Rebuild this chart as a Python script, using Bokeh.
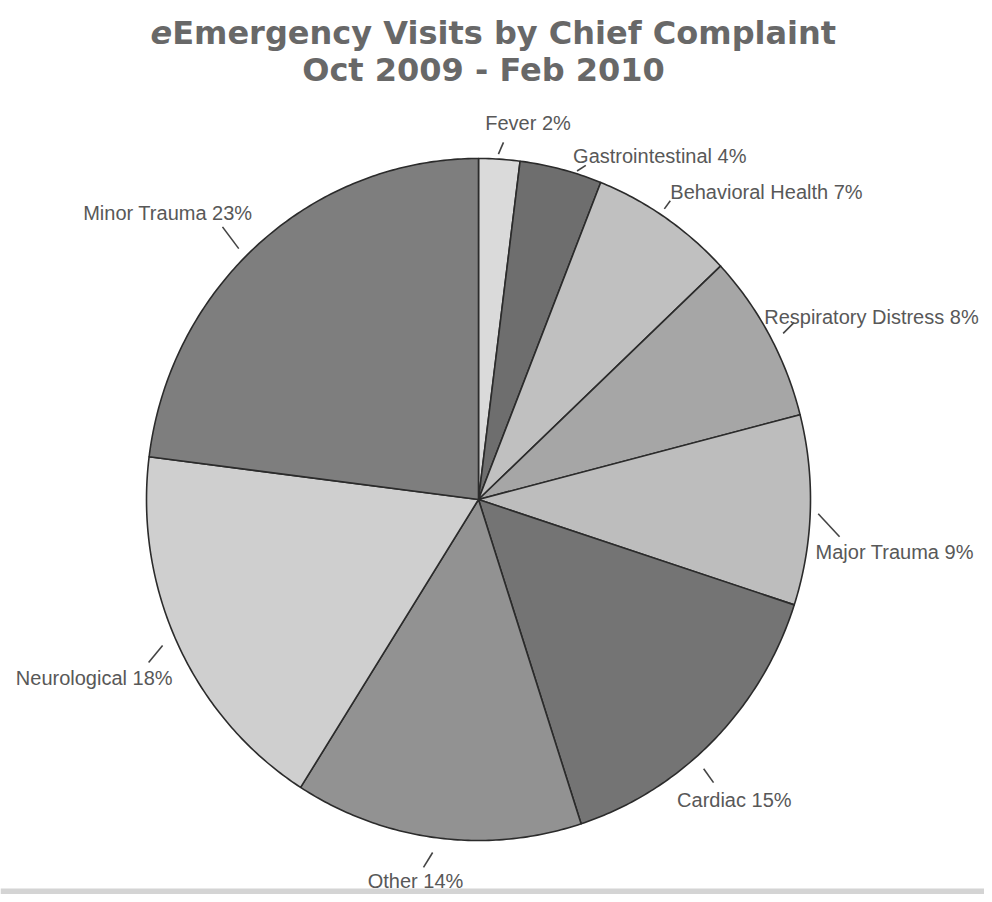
import math
from bokeh.plotting import figure
from bokeh.models import Range1d, ColumnDataSource
from bokeh.core.properties import value
from bokeh.embed import file_html
from bokeh.resources import INLINE

# ---------------- data ----------------
categories = ["Fever", "Gastrointestinal", "Behavioral Health", "Respiratory Distress",
              "Major Trauma", "Cardiac", "Other", "Neurological", "Minor Trauma"]
percent = [2, 4, 7, 8, 9, 15, 14, 18, 23]
slice_colors = ["#dadada", "#6e6e6e", "#c0c0c0", "#a6a6a6", "#bdbdbd",
                "#747474", "#929292", "#cfcfcf", "#7e7e7e"]
title_line1_italic = "e"
title_line1_rest = "Emergency Visits by Chief Complaint"
title_line2 = "Oct 2009 - Feb 2010"

# ---------------- layout (screen pixel space, y measured downward) ----------------
W, H = 984, 894
PAGE_H = 902
def up(y):
    return PAGE_H - y

CX, CY = 478, 499          # pie centre
RX, RY = 332, 341          # pie radii (slightly oval, as in the scan)

# per-label layout: leader inner/outer angle shift (deg), r_in, r_out, label dx, dy, align
label_layout = [
    (-0.3, 0.4, 346, 358, 24.6, -19.7, "center"),
    (2.3, 3.4, 343, 351, -12.7, -9.1, "left"),
    (-1.6, -1.5, 345, 355, 0.0, -9.0, "left"),
    (0.2, -0.5, 347, 362, -30.0, -5.6, "left"),
    (0.6, 4.1, 340, 363, -24.0, 15.0, "left"),
    (5.1, 5.3, 351, 368, -36.5, 17.0, "left"),
    (0.2, 1.3, 356, 372, -8.0, 13.6, "center"),
    (0.4, -1.1, 348, 368, 24.0, 15.0, "right"),
    (-2.3, -1.8, 347, 374, 30.0, -13.5, "right"),
]

p = figure(width=W, height=H, output_backend="svg", toolbar_location=None,
           x_range=Range1d(0, W), y_range=Range1d(up(H), up(0)),
           min_border=0, min_border_left=0, min_border_right=0,
           min_border_top=0, min_border_bottom=0)
p.axis.visible = False
p.grid.visible = False
p.outline_line_color = None
p.background_fill_color = "white"
p.border_fill_color = "white"

# scan strip at the bottom of the page
p.quad(left=[0], right=[W], bottom=[up(H)], top=[up(888)],
       fill_color="#d4d4d4", line_color=None)

# ---------------- slices ----------------
total = float(sum(percent))
xs, ys = [], []
mids = []
cum = 0.0
for v in percent:
    a0 = 2 * math.pi * cum / total
    a1 = 2 * math.pi * (cum + v) / total
    mids.append((a0 + a1) / 2)
    n = max(8, int(v * 6))
    px = [CX]
    py = [up(CY)]
    for i in range(n + 1):
        a = a0 + (a1 - a0) * i / n
        px.append(CX + RX * math.sin(a))
        py.append(up(CY) + RY * math.cos(a))
    xs.append(px)
    ys.append(py)
    cum += v

src = ColumnDataSource(dict(xs=xs, ys=ys, color=slice_colors, cat=categories))
p.patches("xs", "ys", source=src, fill_color="color", line_color="#2b2b2b",
          line_width=1.6, line_join="round")

# ---------------- leaders + labels ----------------
lx0, ly0, lx1, ly1 = [], [], [], []
tx, ty, tt, ta = [], [], [], []
for cat, pct, mid, lay in zip(categories, percent, mids, label_layout):
    s_in, s_out, r_in, r_out, dx, dy, align = lay
    a_in = mid + math.radians(s_in)
    a_out = mid + math.radians(s_out)
    x0 = CX + r_in * math.sin(a_in)
    y0 = CY - r_in * math.cos(a_in)
    x1 = CX + r_out * math.sin(a_out)
    y1 = CY - r_out * math.cos(a_out)
    lx0.append(x0); ly0.append(up(y0)); lx1.append(x1); ly1.append(up(y1))
    tx.append(x1 + dx); ty.append(up(y1 + dy))
    tt.append(f"{cat} {pct}%"); ta.append(align)

p.segment(x0=lx0, y0=ly0, x1=lx1, y1=ly1, line_color="#444444", line_width=1.6)
lsrc = ColumnDataSource(dict(x=tx, y=ty, text=tt, align=ta))
p.text(x="x", y="y", text="text", source=lsrc, text_align="align",
       text_baseline="middle", text_font=value("Liberation Sans"),
       text_font_size="20px", text_color="#585858")

# ---------------- title ----------------
title_font = value("DejaVu Sans")
p.text(x=[150], y=[up(32)], text=[title_line1_italic], text_align="left",
       text_baseline="middle", text_font=title_font, text_font_size="32px",
       text_font_style="bold italic", text_color="#686868")
p.text(x=[150 + 0.678 * 32], y=[up(32)], text=[title_line1_rest], text_align="left",
       text_baseline="middle", text_font=title_font, text_font_size="32px",
       text_font_style="bold", text_color="#686868")
p.text(x=[483], y=[up(69)], text=[title_line2], text_align="center",
       text_baseline="middle", text_font=title_font, text_font_size="32px",
       text_font_style="bold", text_color="#686868")

open("out.html", "w").write(file_html(p, INLINE))
